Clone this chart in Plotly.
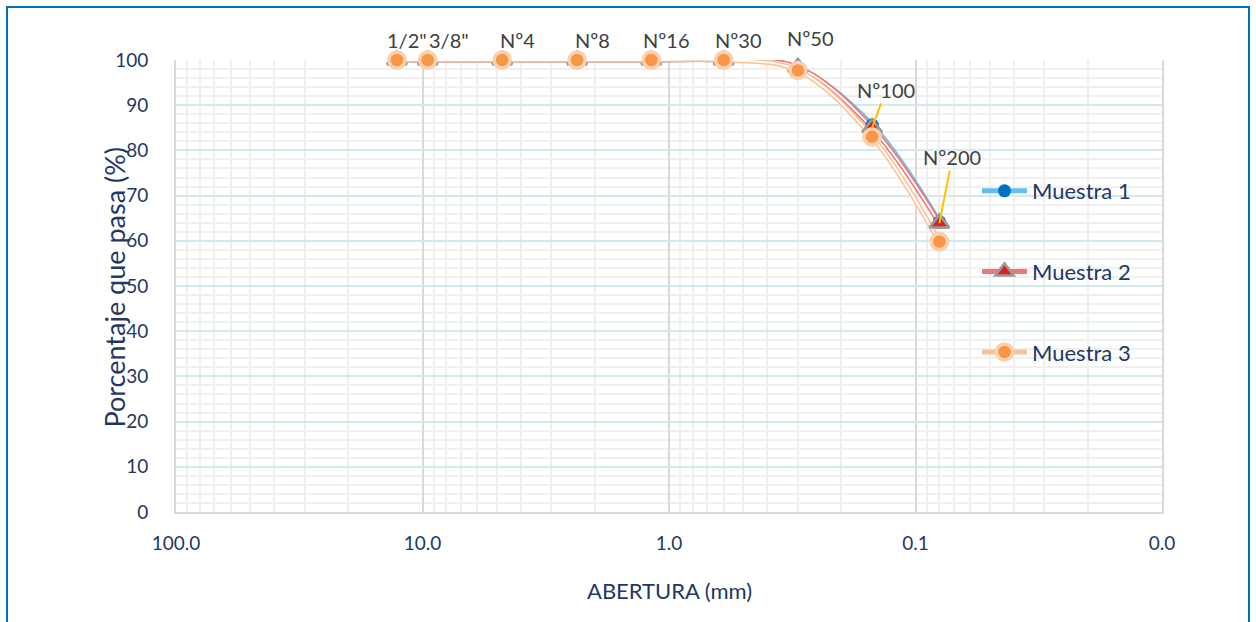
import math
import plotly.graph_objects as go

# Sieve designations and openings (mm)
tamices = ['1/2"', '3/8"', 'Nº4', 'Nº8', 'Nº16', 'Nº30', 'Nº50', 'Nº100', 'Nº200']
abertura = [12.7, 9.525, 4.75, 2.36, 1.18, 0.6, 0.3, 0.15, 0.08]

# Percent passing for each sample
muestra_1 = [100, 100, 100, 100, 100, 100, 98.2, 85.6, 64.2]
muestra_2 = [100, 100, 100, 100, 100, 100, 98.4, 85.0, 63.9]
muestra_3 = [100, 100, 100, 100, 100, 100, 97.7, 83.0, 59.8]

x_ticks = [100, 10, 1, 0.1, 0.01]
x_ticktext = ['100.0', '10.0', '1.0', '0.1', '0.0']

NAVY = '#1F3864'
FONT = 'Lato'

series = [
    dict(name='Muestra 1', y=muestra_1, line='#62C0EA',
         marker=dict(symbol='circle', size=13, color='#0070C0',
                     line=dict(width=0, color='#0070C0'))),
    dict(name='Muestra 2', y=muestra_2, line='#EE7777',
         marker=dict(symbol='triangle-up', size=17, color='#E01F1F',
                     line=dict(width=2.5, color='#9A9A9A'))),
    dict(name='Muestra 3', y=muestra_3, line='#F9C39A',
         marker=dict(symbol='circle', size=16, color='#F79646',
                     line=dict(width=3.5, color='#FBD0AC'))),
]

fig = go.Figure()

# Double lines: coloured stroke with a thin white core
for s in series:
    fig.add_trace(go.Scatter(
        x=abertura, y=s['y'], name=s['name'], legendgroup=s['name'],
        mode='lines+markers', line=dict(color=s['line'], width=5, shape='spline', smoothing=1),
        marker=s['marker'], hoverinfo='skip'))
    fig.add_trace(go.Scatter(
        x=abertura, y=s['y'], showlegend=False, legendgroup=s['name'],
        mode='lines', line=dict(color='white', width=1.8, shape='spline', smoothing=1),
        hoverinfo='skip'))

# Markers on top of all lines
for s in series:
    fig.add_trace(go.Scatter(
        x=abertura, y=s['y'], showlegend=False, legendgroup=s['name'],
        mode='markers', marker=s['marker'], cliponaxis=False,
        hovertemplate='%{x} mm<br>%{y}%<extra>' + s['name'] + '</extra>'))

# Sieve labels placed over Muestra 2 (annotation x on a log axis is log10)
offsets = {'1/2"': (10, 20), '3/8"': (21, 20), 'Nº50': (13, 29),
           'Nº100': (14, 38), 'Nº200': (13, 66)}
leaders = {'Nº100', 'Nº200'}
annotations = []
for t, xv, yv in zip(tamices, abertura, muestra_2):
    dx, dy = offsets.get(t, (15, 20))
    lx = math.log10(xv)
    if t in leaders:
        annotations.append(dict(
            x=lx, y=yv, xref='x', yref='y', text=t, showarrow=True,
            ax=dx, ay=-dy, arrowhead=0, arrowwidth=2, arrowcolor='#FFC000',
            standoff=0, font=dict(family=FONT, size=20, color='#404040')))
    else:
        annotations.append(dict(
            x=lx, y=yv, xref='x', yref='y', text=t, showarrow=False,
            xshift=dx, yshift=dy, font=dict(family=FONT, size=20, color='#404040')))

# Axis titles
annotations.append(dict(
    x=(95 - 176) / 986, y=(512 - 287) / 452, xref='paper', yref='paper',
    text='Porcentaje que pasa (%)', textangle=-90, showarrow=False,
    font=dict(family=FONT, size=27, color=NAVY)))
annotations.append(dict(
    x=(669 - 176) / 986, y=(512 - 606) / 452, xref='paper', yref='paper',
    text='ABERTURA (mm)', showarrow=False,
    font=dict(family=FONT, size=22, color=NAVY)))

minor_x = [k * 10 ** e for e in (-2, -1, 0, 1) for k in range(2, 10)]

fig.update_layout(
    width=1256, height=622, autosize=False,
    margin=dict(l=176, r=94, t=60, b=110),
    paper_bgcolor='white', plot_bgcolor='white',
    font=dict(family=FONT, color=NAVY),
    annotations=annotations,
    showlegend=True,
    legend=dict(x=(977 - 176) / 986, xanchor='left', y=(512 - 170) / 452, yanchor='top',
                bgcolor='rgba(0,0,0,0)', tracegroupgap=49, itemwidth=45,
                font=dict(family=FONT, size=22, color=NAVY)),
    shapes=[dict(type='rect', xref='paper', yref='paper',
                 x0=(7 - 176) / 986, x1=(1249 - 176) / 986,
                 y0=(512 - 630) / 452, y1=(512 - 7) / 452,
                 line=dict(color='#0070C0', width=2), layer='above')],
)

fig.update_xaxes(
    type='log', range=[2, -2], tickvals=x_ticks, ticktext=x_ticktext,
    showgrid=True, gridcolor='#D9D9D9', gridwidth=1.5,
    minor=dict(tickvals=minor_x, showgrid=True, gridcolor='#EFEFEF', gridwidth=2, ticks=''),
    showline=True, linecolor='#D9D9D9', linewidth=2, ticks='', zeroline=False,
    tickfont=dict(family=FONT, size=19, color=NAVY), ticklabelstandoff=13)

fig.update_yaxes(
    range=[0, 100], tick0=0, dtick=10,
    showgrid=True, gridcolor='#D2E9F1', gridwidth=1.5,
    minor=dict(dtick=2, showgrid=True, gridcolor='#F0F0F0', gridwidth=1.5, ticks=''),
    showline=True, mirror=True, linecolor='#D9D9D9', linewidth=2, ticks='', zeroline=False,
    tickfont=dict(family=FONT, size=19, color=NAVY), ticklabelstandoff=22)

fig.write_html('out.html')
